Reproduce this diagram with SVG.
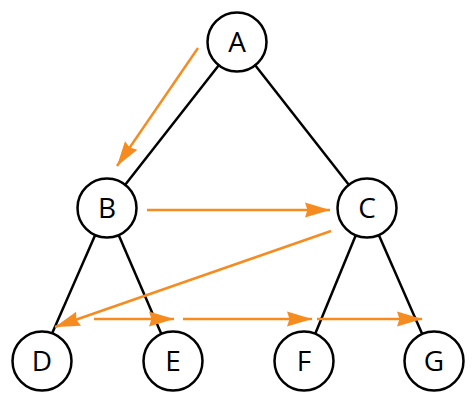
<svg xmlns="http://www.w3.org/2000/svg" width="474" height="403" viewBox="0 0 474 403">
<style>
.edge{stroke:#000;stroke-width:2.5;fill:none}
.arr{stroke:#F68B1F;stroke-width:2.4;fill:none}
.node circle{fill:#fff;stroke:#000;stroke-width:2.5}
.node text{font-family:"Open Sans","Liberation Sans",sans-serif;font-size:28px;fill:#000;text-anchor:middle}
</style>
<defs>
<marker id="ah" viewBox="-26 -9 28 18" refX="0" refY="0" markerUnits="userSpaceOnUse" markerWidth="28" markerHeight="18" orient="auto">
<path d="M0,0 L-25,-7.5 L-22.5,0 L-25,7.5 Z" fill="#F68B1F"/>
</marker>
</defs>
<rect width="474" height="403" fill="#fff"/>
<g id="connectors">
<line class="edge" x1="237" y1="42" x2="107" y2="208"/>
<line class="edge" x1="237" y1="42" x2="367" y2="208"/>
<line class="edge" x1="107" y1="208" x2="40" y2="361"/>
<line class="edge" x1="107" y1="208" x2="173" y2="361"/>
<line class="edge" x1="367" y1="208" x2="304" y2="361"/>
<line class="edge" x1="367" y1="208" x2="434" y2="361"/>
<line class="arr" x1="198" y1="48" x2="117" y2="166" marker-end="url(#ah)"/>
<line class="arr" x1="147" y1="210" x2="330" y2="210" marker-end="url(#ah)"/>
<line class="arr" x1="331" y1="231" x2="55" y2="327" marker-end="url(#ah)"/>
<line class="arr" x1="94" y1="319" x2="174" y2="319" marker-end="url(#ah)"/>
<line class="arr" x1="183" y1="319" x2="312" y2="319" marker-end="url(#ah)"/>
<line class="arr" x1="317" y1="319" x2="422" y2="319" marker-end="url(#ah)"/>
</g>
<g id="A" class="node"><circle cx="237" cy="42" r="29.5"/><text x="237" y="52">A</text></g>
<g id="B" class="node"><circle cx="107" cy="208" r="29.5"/><text x="107" y="218">B</text></g>
<g id="C" class="node"><circle cx="367" cy="208" r="29.5"/><text x="367" y="218">C</text></g>
<g id="D" class="node"><circle cx="42" cy="361" r="29.5"/><text x="42" y="371">D</text></g>
<g id="E" class="node"><circle cx="173" cy="361" r="29.5"/><text x="173" y="371">E</text></g>
<g id="F" class="node"><circle cx="304" cy="361" r="29.5"/><text x="304" y="371">F</text></g>
<g id="G" class="node"><circle cx="434" cy="361" r="29.5"/><text x="434" y="371">G</text></g>
</svg>
